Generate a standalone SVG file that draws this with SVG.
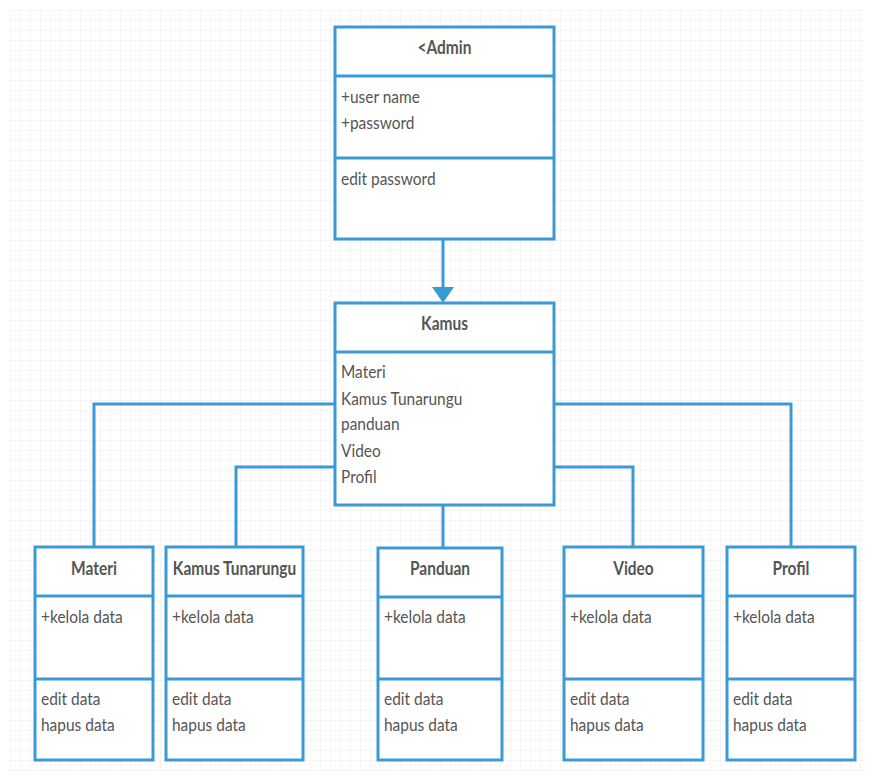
<svg xmlns="http://www.w3.org/2000/svg" width="873" height="780" viewBox="0 0 873 780">
<defs>
<pattern id="grid" width="10" height="10" patternUnits="userSpaceOnUse">
<path d="M10 0 L0 0 0 10" fill="none" stroke="#ececec" stroke-width="1"/>
</pattern>
</defs>
<style>
.box{fill:#fff;stroke:#3a9ad5;stroke-width:3}
.div{stroke:#3a9ad5;stroke-width:3}
.con{fill:none;stroke:#3a9ad5;stroke-width:3}
.head{fill:#3a9ad5}
text{font-family:Lato,"Open Sans","Liberation Sans",sans-serif;fill:#555;font-size:18px;transform-box:fill-box;transform-origin:0 0;transform:scaleX(0.86)}
.h{font-weight:bold;text-anchor:middle;transform-origin:center}
</style>
<rect x="0" y="0" width="873" height="780" fill="#fff"/>
<rect x="8" y="10" width="857" height="762" fill="url(#grid)"/>
<g id="connectors">
<path class="con" d="M443 239 L443 289"/>
<polygon class="head" points="432,287 454,287 443,303"/>
<path class="con" d="M335 404 L94 404 L94 547"/>
<path class="con" d="M335 467 L236 467 L236 547"/>
<path class="con" d="M443 505 L443 548"/>
<path class="con" d="M554 467 L633 467 L633 547"/>
<path class="con" d="M554 404 L791 404 L791 547"/>
</g>
<g id="admin">
<rect class="box" x="335" y="27" width="219" height="212"/>
<line class="div" x1="335" y1="76" x2="554" y2="76"/>
<line class="div" x1="335" y1="158" x2="554" y2="158"/>
<text class="h" x="444.5" y="54">&lt;Admin</text>
<text x="341" y="103">+user name</text>
<text x="341" y="129">+password</text>
<text x="341" y="185">edit password</text>
</g>
<g id="kamus">
<rect class="box" x="335" y="303" width="219" height="202"/>
<line class="div" x1="335" y1="352" x2="554" y2="352"/>
<text class="h" x="444.5" y="330">Kamus</text>
<text x="341" y="378">Materi</text>
<text x="341" y="405">Kamus Tunarungu</text>
<text x="341" y="430">panduan</text>
<text x="341" y="457">Video</text>
<text x="341" y="483">Profil</text>
</g>
<g id="materi">
<rect class="box" x="35" y="547" width="118" height="213"/>
<line class="div" x1="35" y1="596" x2="153" y2="596"/>
<line class="div" x1="35" y1="679" x2="153" y2="679"/>
<text class="h" x="94" y="575">Materi</text>
<text x="41" y="623">+kelola data</text>
<text x="41" y="705">edit data</text>
<text x="41" y="731">hapus data</text>
</g>
<g id="kamus-tunarungu">
<rect class="box" x="166" y="547" width="137" height="213"/>
<line class="div" x1="166" y1="596" x2="303" y2="596"/>
<line class="div" x1="166" y1="679" x2="303" y2="679"/>
<text class="h" x="234.5" y="575">Kamus Tunarungu</text>
<text x="172" y="623">+kelola data</text>
<text x="172" y="705">edit data</text>
<text x="172" y="731">hapus data</text>
</g>
<g id="panduan">
<rect class="box" x="378" y="548" width="124" height="212"/>
<line class="div" x1="378" y1="597" x2="502" y2="597"/>
<line class="div" x1="378" y1="679" x2="502" y2="679"/>
<text class="h" x="440" y="575">Panduan</text>
<text x="384" y="623">+kelola data</text>
<text x="384" y="705">edit data</text>
<text x="384" y="731">hapus data</text>
</g>
<g id="video">
<rect class="box" x="564" y="547" width="139" height="213"/>
<line class="div" x1="564" y1="596" x2="703" y2="596"/>
<line class="div" x1="564" y1="679" x2="703" y2="679"/>
<text class="h" x="633.5" y="575">Video</text>
<text x="570" y="623">+kelola data</text>
<text x="570" y="705">edit data</text>
<text x="570" y="731">hapus data</text>
</g>
<g id="profil">
<rect class="box" x="727" y="547" width="128" height="213"/>
<line class="div" x1="727" y1="596" x2="855" y2="596"/>
<line class="div" x1="727" y1="679" x2="855" y2="679"/>
<text class="h" x="791" y="575">Profil</text>
<text x="733" y="623">+kelola data</text>
<text x="733" y="705">edit data</text>
<text x="733" y="731">hapus data</text>
</g>
</svg>
